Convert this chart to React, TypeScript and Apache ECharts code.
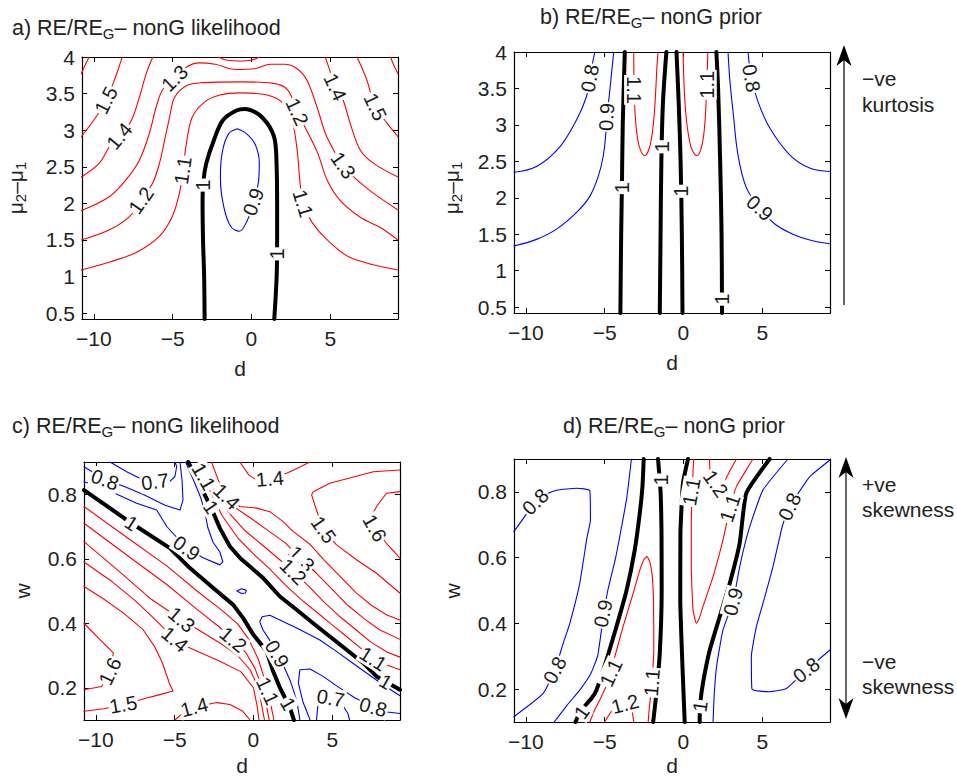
import React, { useEffect, useRef } from "react";
import * as echarts from "echarts";

type Pt = [number, number];
type Lbl = [string, number, number, number];

const FONT = "'Liberation Sans', Arial, Helvetica, sans-serif";

// ---------- axes ----------
const dTicks = [-10, -5, 0, 5];
const muTicks = [0.5, 1, 1.5, 2, 2.5, 3, 3.5, 4];
const wTicks = [0.2, 0.4, 0.6, 0.8];
const dRange: Pt = [-10.75, 9.3];
const muRange: Pt = [0.42, 4];
const wRange: Pt = [0.1, 0.9];

// ---------- panel a : RE/RE_G, nonG likelihood, (d, mu2-mu1) ----------
const aBlack1: Pt[] = [[-2.97,0.42],[-3.0,1.0],[-3.07,1.5],[-3.1,2.0],[-3.05,2.3],[-2.86,2.55],[-2.39,2.86],[-1.8,3.14],[-0.95,3.27],[-0.4,3.29],[0.2,3.25],[0.7,3.17],[1.17,3.04],[1.49,2.86],[1.6,2.5],[1.63,2.0],[1.63,1.5],[1.6,1.0],[1.45,0.42]];
const aBlue09: Pt[] = [[-0.9,3.02],[-0.3,2.95],[0.25,2.8],[0.5,2.55],[0.45,2.3],[0.15,2.0],[-0.3,1.75],[-0.75,1.62],[-1.3,1.68],[-1.75,1.95],[-1.97,2.35],[-1.85,2.7],[-1.45,2.95],[-0.9,3.02]];
const aRed11: Pt[] = [[-10.8,1.09],[-9.0,1.2],[-7.3,1.33],[-5.8,1.56],[-5.0,1.83],[-4.56,2.15],[-4.35,2.45],[-4.13,2.81],[-3.77,3.17],[-3.0,3.38],[-2.0,3.48],[-0.7,3.51],[1.0,3.48],[2.0,3.37],[2.58,3.13],[2.9,2.73],[3.09,2.27],[3.28,2.0],[3.85,1.74],[4.81,1.5],[6.27,1.26],[9.3,1.09]];
const aRed12: Pt[] = [[-10.8,1.5],[-9.0,1.64],[-7.74,1.82],[-7.0,2.04],[-6.28,2.27],[-5.83,2.55],[-5.51,2.86],[-5.19,3.18],[-4.87,3.45],[-4.1,3.61],[-3.1,3.65],[-0.7,3.66],[1.4,3.64],[2.3,3.55],[2.9,3.25],[3.5,3.0],[4.2,2.69],[4.8,2.32],[5.63,2.04],[6.9,1.81],[8.18,1.67],[9.3,1.5]];
const aRed13: Pt[] = [[-10.8,1.9],[-9.02,2.09],[-7.96,2.32],[-7.11,2.59],[-6.47,2.96],[-6.04,3.32],[-5.64,3.55],[-4.87,3.71],[-4.14,3.86],[-3.3,3.92],[-2.3,3.9],[-1.0,3.83],[0.2,3.84],[1.2,3.9],[2.1,3.9],[2.9,3.84],[3.53,3.68],[4.17,3.31],[4.8,2.9],[5.82,2.52],[6.7,2.32],[7.73,2.14],[9.3,1.91]];
const aRed14a: Pt[] = [[-10.8,2.36],[-9.65,2.55],[-9.02,2.77],[-8.38,2.92],[-7.63,3.13],[-7.11,3.45],[-6.68,3.77],[-6.26,4.0]];
const aRed14b: Pt[] = [[-2.1,4.0],[-1.6,3.96],[-0.8,3.945],[0.0,3.955],[0.5,4.0]];
const aRed14c: Pt[] = [[4.68,4.0],[5.0,3.8],[5.32,3.59],[5.82,3.41],[6.27,3.09],[6.9,2.73],[7.73,2.55],[9.3,2.36]];
const aRed15a: Pt[] = [[-10.8,2.91],[-9.86,3.18],[-9.23,3.41],[-8.7,3.68],[-8.27,3.95],[-8.2,4.0]];
const aRed15b: Pt[] = [[6.7,4.0],[7.3,3.7],[7.86,3.32],[8.63,3.09],[9.3,2.91]];
const aRed16a: Pt[] = [[-10.8,3.77],[-10.55,3.89],[-10.3,4.0]];
const aRed16b: Pt[] = [[8.82,4.0],[9.05,3.88],[9.3,3.77]];
const aContours: [number, Pt[]][] = [[1.6,aRed16a],[1.6,aRed16b],[1.5,aRed15a],[1.5,aRed15b],[1.4,aRed14a],[1.4,aRed14b],[1.4,aRed14c],[1.3,aRed13],[1.2,aRed12],[1.1,aRed11],[0.9,aBlue09],[1,aBlack1]];
const aLabels: Lbl[] = [["1.5",-9.23,3.41,63],["1.4",-8.38,2.92,50],["1.3",-4.87,3.71,44],["1.2",-7.0,2.04,55],["1.1",-4.35,2.45,82],["1",-3.08,2.25,90],["0.9",0.12,2.02,70],["1",1.63,1.31,90],["1.2",2.9,3.25,-65],["1.4",5.32,3.59,-65],["1.5",7.86,3.32,-65],["1.3",5.82,2.52,-55],["1.1",3.28,2.0,-73]];

// ---------- panel b : RE/RE_G, nonG prior, (d, mu2-mu1) ----------
const bBlack1: Pt[] = [[-4.0,0.42],[-3.95,1.5],[-3.9,2.2],[-3.85,3.0],[-3.72,4.0]];
const bBlack2: Pt[] = [[-1.5,0.42],[-1.45,1.5],[-1.4,2.5],[-1.3,3.3],[-1.08,4.0]];
const bBlack3: Pt[] = [[-0.06,0.42],[-0.1,1.5],[-0.18,2.5],[-0.3,3.3],[-0.44,4.0]];
const bBlack4: Pt[] = [[2.45,0.42],[2.42,1.5],[2.33,2.5],[2.2,3.5],[2.09,4.0]];
const bRed11a: Pt[] = [[-3.15,4.0],[-3.13,3.5],[-3.05,3.1],[-2.9,2.8],[-2.7,2.64],[-2.45,2.58],[-2.2,2.66],[-2.0,2.85],[-1.85,3.15],[-1.75,3.5],[-1.68,3.8],[-1.61,4.0]];
const bRed11b: Pt[] = [[-0.02,4.0],[0.05,3.5],[0.2,3.05],[0.45,2.72],[0.7,2.6],[0.89,2.58],[1.1,2.66],[1.28,2.85],[1.4,3.15],[1.47,3.5],[1.55,4.0]];
const bBlue09a: Pt[] = [[-10.75,1.34],[-9.32,1.43],[-8.05,1.57],[-6.78,1.8],[-5.94,2.02],[-5.41,2.29],[-5.09,2.57],[-4.92,2.89],[-4.88,3.11],[-4.71,3.39],[-4.56,3.71],[-4.42,4.0]];
const bBlue09b: Pt[] = [[2.83,4.0],[2.95,3.6],[3.15,3.18],[3.46,2.59],[3.99,2.14],[4.84,1.86],[5.8,1.64],[6.95,1.5],[8.2,1.41],[9.3,1.37]];
const bBlue08a: Pt[] = [[-10.75,2.35],[-9.32,2.43],[-7.84,2.7],[-6.78,3.07],[-6.15,3.39],[-5.94,3.64],[-5.73,3.89],[-5.62,4.0]];
const bBlue08b: Pt[] = [[4.1,4.0],[4.31,3.64],[4.73,3.32],[5.47,2.96],[6.74,2.59],[8.0,2.41],[9.3,2.36]];
const bContours: [number, Pt[]][] = [[0.8,bBlue08a],[0.8,bBlue08b],[0.9,bBlue09a],[0.9,bBlue09b],[1.1,bRed11a],[1.1,bRed11b],[1,bBlack1],[1,bBlack2],[1,bBlack3],[1,bBlack4]];
const bLabels: Lbl[] = [["0.8",-5.94,3.64,80],["0.9",-4.88,3.11,87],["1",-3.9,2.14,90],["1.1",-3.13,3.48,-90],["1",-1.38,2.7,90],["1",-0.15,2.09,90],["1.1",1.48,3.55,90],["1",2.44,0.61,90],["0.8",4.31,3.64,-80],["0.9",4.84,1.86,-42]];

// ---------- panel c : RE/RE_G, nonG likelihood, (d, w) ----------
const cBlackA: Pt[] = [[-10.75,0.813],[-7.73,0.71],[-5.3,0.633],[-4.03,0.571],[-2.55,0.509],[-1.28,0.457],[-0.65,0.416],[0.0,0.364],[0.84,0.313],[1.25,0.251],[1.68,0.2],[2.3,0.14],[2.57,0.1]];
const cBlackB: Pt[] = [[-4.14,0.9],[-3.6,0.85],[-3.19,0.808],[-2.7,0.76],[-2.13,0.695],[-1.49,0.638],[-0.8,0.6],[-0.2,0.575],[0.62,0.54],[1.68,0.483],[2.74,0.442],[3.79,0.4],[4.85,0.359],[5.91,0.318],[6.96,0.277],[7.81,0.235],[9.3,0.194]];
const cBlue07a: Pt[] = [[-9.1,0.9],[-8.04,0.87],[-6.99,0.844],[-6.25,0.839],[-5.3,0.84],[-4.98,0.855],[-4.87,0.886],[-4.98,0.9]];
const cBlue08a: Pt[] = [[-10.75,0.885],[-9.42,0.845],[-8.15,0.823],[-6.88,0.797],[-5.61,0.766],[-4.66,0.751],[-4.47,0.782],[-4.53,0.844],[-4.66,0.9]];
const cBlue09a: Pt[] = [[-10.75,0.839],[-9.53,0.819],[-7.41,0.772],[-6.14,0.751],[-5.5,0.7],[-4.24,0.633],[-3.2,0.603],[-2.13,0.581],[-1.94,0.59],[-2.13,0.621],[-2.57,0.652],[-2.89,0.696],[-3.08,0.745],[-3.35,0.79],[-3.75,0.838],[-4.3,0.9]];
const cBlue09b: Pt[] = [[-1.05,0.5],[-0.75,0.507],[-0.45,0.502],[-0.5,0.494],[-0.75,0.492],[-1.05,0.5]];
const cBlue09c: Pt[] = [[2.95,0.1],[2.75,0.16],[2.35,0.22],[1.9,0.27],[1.45,0.31],[1.0,0.35],[0.6,0.38],[0.4,0.405],[0.55,0.42],[1.04,0.425],[1.68,0.41],[2.74,0.385],[3.58,0.364],[4.21,0.348],[5.2,0.315],[6.2,0.28],[7.2,0.245],[8.2,0.21],[9.3,0.175]];
const cBlue08b: Pt[] = [[3.6,0.1],[3.15,0.155],[2.85,0.215],[2.95,0.256],[3.6,0.258],[4.4,0.236],[5.3,0.205],[6.4,0.17],[7.6,0.14],[8.5,0.125],[9.3,0.12]];
const cBlue07b: Pt[] = [[4.0,0.1],[4.1,0.15],[4.9,0.168],[5.6,0.15],[6.0,0.12],[6.1,0.1]];
const cRed11a: Pt[] = [[-10.75,0.762],[-8,0.665],[-5.5,0.578],[-3.5,0.497],[-2,0.44],[-1,0.398],[-0.3,0.35],[0.3,0.29],[0.75,0.22],[1.05,0.16],[1.3,0.1]];
const cRed12a: Pt[] = [[-10.75,0.71],[-8,0.61],[-5.5,0.52],[-3.5,0.44],[-2.2,0.39],[-1.28,0.349],[-0.5,0.31],[0.1,0.26],[0.55,0.2],[0.85,0.14],[1.0,0.1]];
const cRed13a: Pt[] = [[-10.75,0.653],[-8.5,0.56],[-6.5,0.475],[-4.56,0.411],[-3.5,0.38],[-2.0,0.335],[-1.0,0.3],[-0.2,0.255],[0.3,0.2],[0.55,0.14],[0.7,0.1]];
const cRed14a: Pt[] = [[-10.75,0.59],[-9,0.53],[-7.5,0.47],[-6.2,0.41],[-4.98,0.35],[-4.03,0.323],[-2.13,0.282],[-0.8,0.25],[0.0,0.2],[0.25,0.14],[0.35,0.1]];
const cRed14b: Pt[] = [[-4.98,0.1],[-4.35,0.127],[-3.7,0.14],[-2.95,0.148],[-2.32,0.154],[-1.49,0.148],[-0.67,0.127],[-0.22,0.1]];
const cRed15a: Pt[] = [[-10.75,0.514],[-9.5,0.475],[-8.2,0.43],[-7.0,0.38],[-6.3,0.33],[-5.8,0.28],[-5.3,0.21],[-5.1,0.19],[-6.0,0.178],[-6.77,0.168],[-8.26,0.148],[-9.5,0.135],[-10.75,0.127]];
const cRed16a: Pt[] = [[-10.75,0.4],[-9.74,0.349],[-8.89,0.308],[-9.1,0.251],[-9.63,0.204],[-10.75,0.194]];
const cRed11b: Pt[] = [[-3.58,0.9],[-2.75,0.81],[-2.0,0.735],[-1.0,0.665],[0.0,0.615],[1.0,0.57],[2.0,0.52],[3.0,0.475],[4.0,0.435],[5.0,0.395],[6.0,0.355],[7.0,0.315],[7.6,0.29],[8.5,0.27],[9.3,0.256]];
const cRed12b: Pt[] = [[-3.29,0.9],[-2.45,0.81],[-1.6,0.745],[-0.6,0.69],[0.5,0.645],[1.6,0.6],[2.52,0.56],[3.5,0.515],[4.5,0.465],[5.5,0.42],[6.5,0.38],[7.5,0.34],[8.5,0.31],[9.3,0.295]];
const cRed13b: Pt[] = [[-2.97,0.9],[-2.15,0.815],[-1.2,0.76],[0.0,0.72],[1.0,0.685],[2.0,0.65],[3.05,0.6],[4.0,0.555],[5.0,0.505],[6.0,0.455],[7.0,0.415],[8.0,0.38],[9.3,0.35]];
const cRed14c: Pt[] = [[-2.66,0.9],[-2.2,0.84],[-1.7,0.793],[-0.86,0.762],[0.2,0.757],[1.04,0.746],[1.89,0.715],[2.52,0.685],[3.58,0.645],[4.5,0.595],[5.5,0.545],[6.5,0.495],[7.5,0.455],[8.5,0.425],[9.3,0.41]];
const cRed14d: Pt[] = [[-0.86,0.9],[-0.3,0.86],[0.2,0.844],[1.04,0.848],[2.1,0.865],[3.0,0.885],[3.58,0.9]];
const cRed15b: Pt[] = [[9.3,0.875],[7.6,0.87],[4.85,0.834],[3.79,0.808],[3.69,0.798],[4.0,0.751],[4.45,0.69],[5.27,0.643],[6.54,0.597],[7.81,0.555],[9.3,0.493]];
const cRed16b: Pt[] = [[9.3,0.808],[8.44,0.803],[7.81,0.762],[7.6,0.741],[7.7,0.695],[8.44,0.648],[9.3,0.602]];
const cContours: [number, Pt[]][] = [[0.7,cBlue07a],[0.8,cBlue08a],[0.9,cBlue09a],[0.9,cBlue09b],[0.9,cBlue09c],[0.8,cBlue08b],[0.7,cBlue07b],[1.1,cRed11a],[1.2,cRed12a],[1.3,cRed13a],[1.4,cRed14a],[1.4,cRed14b],[1.5,cRed15a],[1.6,cRed16a],[1.1,cRed11b],[1.2,cRed12b],[1.3,cRed13b],[1.4,cRed14c],[1.4,cRed14d],[1.5,cRed15b],[1.6,cRed16b],[1,cBlackA],[1,cBlackB]];
const cLabels: Lbl[] = [["0.8",-9.42,0.845,-20],["0.7",-6.25,0.839,8],["1",-7.73,0.71,-33],["0.9",-4.24,0.633,-35],["1.3",-4.56,0.411,-40],["1.4",-4.98,0.35,-40],["1.2",-1.28,0.349,-40],["1.6",-9.1,0.251,65],["1.5",-8.26,0.148,10],["1.4",-3.75,0.14,15],["1.1",0.9,0.19,-65],["1",2.2,0.15,-60],["0.9",1.5,0.305,-60],["1.1",-3.15,0.855,-60],["1.4",-1.7,0.793,-45],["1",-2.7,0.76,-55],["1.3",3.05,0.6,-45],["1.2",2.52,0.56,-45],["1.5",4.45,0.69,-55],["1.6",7.7,0.695,-60],["1.4",1.04,0.848,5],["1.1",7.6,0.29,-32],["1",8.4,0.219,-30],["0.7",4.9,0.168,-10],["0.8",7.6,0.14,-15]];

// ---------- panel d : RE/RE_G, nonG prior, (d, w) ----------
const dBlackL: Pt[] = [[-6.85,0.1],[-6.5,0.135],[-5.83,0.172],[-5.52,0.197],[-4.88,0.289],[-4.25,0.39],[-3.61,0.5],[-3.09,0.623],[-2.77,0.735],[-2.6,0.816],[-2.52,0.9]];
const dBlackM1: Pt[] = [[-1.61,0.9],[-1.45,0.8],[-1.39,0.67],[-1.38,0.5],[-1.5,0.31],[-1.71,0.19],[-1.92,0.1]];
const dBlackM2: Pt[] = [[0.29,0.9],[-0.03,0.826],[-0.19,0.674],[-0.2,0.471],[-0.06,0.268],[0.08,0.1]];
const dBlackR: Pt[] = [[1.03,0.1],[1.05,0.147],[1.24,0.218],[1.67,0.319],[2.3,0.42],[2.94,0.522],[3.57,0.644],[3.99,0.796],[5.47,0.9]];
const dBlue09L: Pt[] = [[-8.2,0.1],[-7.4,0.15],[-6.58,0.197],[-5.9,0.245],[-5.45,0.3],[-5.2,0.38],[-5.05,0.43],[-4.8,0.5],[-4.3,0.6],[-3.9,0.7],[-3.6,0.78],[-3.3,0.9]];
const dBlue08L: Pt[] = [[-10.76,0.679],[-10.0,0.73],[-9.4,0.77],[-8.6,0.795],[-8.05,0.805],[-6.78,0.811],[-5.94,0.804],[-5.9,0.714],[-6.11,0.664],[-6.58,0.522],[-7.21,0.4],[-7.63,0.339],[-8.16,0.258],[-8.9,0.187],[-10.76,0.116]];
const dBlue09R: Pt[] = [[1.88,0.1],[1.95,0.18],[2.1,0.268],[2.51,0.38],[3.15,0.466],[3.57,0.572],[4.0,0.66],[4.41,0.724],[5.05,0.806],[6.63,0.9]];
const dBlue08R: Pt[] = [[9.3,0.897],[8.01,0.846],[7.2,0.79],[6.74,0.755],[6.3,0.7],[6.1,0.66],[5.68,0.572],[5.1,0.47],[4.63,0.39],[4.31,0.299],[4.35,0.2],[5.47,0.192],[6.53,0.202],[7.8,0.258],[9.3,0.319]];
const dRed11L: Pt[] = [[-5.94,0.1],[-5.6,0.14],[-5.31,0.167],[-4.75,0.225],[-4.46,0.28],[-3.83,0.39],[-3.19,0.491],[-2.77,0.562],[-2.5,0.595],[-2.3,0.603],[-2.12,0.585],[-1.97,0.54],[-1.9,0.47],[-1.88,0.319],[-1.95,0.25],[-2.03,0.2],[-2.15,0.15],[-2.24,0.1]];
const dRed12L: Pt[] = [[-5.0,0.1],[-4.6,0.13],[-4.2,0.148],[-3.7,0.158],[-3.3,0.14],[-3.15,0.1]];
const dRed11R: Pt[] = [[0.65,0.9],[0.55,0.8],[0.5,0.7],[0.5,0.572],[0.61,0.441],[0.82,0.4],[1.0,0.415],[1.24,0.451],[1.88,0.542],[2.51,0.654],[2.95,0.75],[3.36,0.816],[3.9,0.86],[4.41,0.9]];
const dRed12R: Pt[] = [[1.65,0.9],[1.72,0.85],[2.05,0.825],[2.41,0.816],[2.9,0.86],[3.36,0.9]];
const dContours: [number, Pt[]][] = [[0.8,dBlue08L],[0.8,dBlue08R],[0.9,dBlue09L],[0.9,dBlue09R],[1.1,dRed11L],[1.2,dRed12L],[1.1,dRed11R],[1.2,dRed12R],[1,dBlackL],[1,dBlackM1],[1,dBlackM2],[1,dBlackR]];
const dLabels: Lbl[] = [["0.8",-9.4,0.77,44],["0.8",-8.16,0.258,62],["0.9",-5.1,0.43,78],["1",-6.45,0.13,55],["1.1",-4.6,0.25,65],["1.2",-3.7,0.155,15],["1.1",-2.0,0.22,85],["1",-1.45,0.836,90],["1.1",0.5,0.8,80],["1.2",2.05,0.825,-55],["1.1",2.95,0.75,72],["0.9",3.15,0.466,75],["0.8",6.74,0.755,65],["0.8",7.8,0.258,38],["1",1.05,0.147,82]];

// ---------- layout ----------
const panels = [
  { grid: { left: 82, top: 57, width: 316, height: 262 }, yRange: muRange, yTicks: muTicks, contours: aContours, labels: aLabels, smooth: 0.35 },
  { grid: { left: 514, top: 52, width: 316, height: 261 }, yRange: muRange, yTicks: muTicks, contours: bContours, labels: bLabels, smooth: 0.35 },
  { grid: { left: 84, top: 462, width: 316, height: 258 }, yRange: wRange, yTicks: wTicks, contours: cContours, labels: cLabels, smooth: 0 },
  { grid: { left: 514, top: 459, width: 316, height: 263 }, yRange: wRange, yTicks: wTicks, contours: dContours, labels: dLabels, smooth: 0.15 },
];

const fmt = (v: number) => String(v).replace("-", "\u2212");
const levelColor = (l: number) => (l === 1 ? "#000000" : l < 1 ? "#0000ff" : "#ff0000");

function buildOption() {
  const xAxis: any[] = [];
  const yAxis: any[] = [];
  const series: any[] = [];
  const axisLine = { show: true, onZero: false, lineStyle: { color: "#000", width: 1.2 } };
  const labelStyle = { fontSize: 21, fontFamily: FONT, color: "#222" };
  panels.forEach((p, g) => {
    const xt = { show: true, inside: true, length: 5, customValues: dTicks, lineStyle: { color: "#000" } };
    const yt = { show: true, inside: true, length: 5, customValues: p.yTicks, lineStyle: { color: "#000" } };
    xAxis.push({ type: "value", gridIndex: g, position: "bottom", min: dRange[0], max: dRange[1], axisLine, axisTick: xt, splitLine: { show: false },
      axisLabel: { show: true, customValues: dTicks, formatter: fmt, margin: 9, ...labelStyle } });
    xAxis.push({ type: "value", gridIndex: g, position: "top", min: dRange[0], max: dRange[1], axisLine, axisTick: xt, splitLine: { show: false }, axisLabel: { show: false } });
    yAxis.push({ type: "value", gridIndex: g, position: "left", min: p.yRange[0], max: p.yRange[1], axisLine, axisTick: yt, splitLine: { show: false },
      axisLabel: { show: true, customValues: p.yTicks, formatter: fmt, margin: 7, ...labelStyle } });
    yAxis.push({ type: "value", gridIndex: g, position: "right", min: p.yRange[0], max: p.yRange[1], axisLine, axisTick: yt, splitLine: { show: false }, axisLabel: { show: false } });
    p.contours.forEach(([lvl, pts]) => {
      series.push({
        type: "line", xAxisIndex: g * 2, yAxisIndex: g * 2, data: pts, symbol: "none", showSymbol: false,
        smooth: p.smooth || false, silent: true, z: lvl === 1 ? 3 : 2,
        lineStyle: { color: levelColor(lvl), width: lvl === 1 ? 4 : 1.1, cap: "round", join: "round" },
      });
    });
    series.push({
      type: "scatter", xAxisIndex: g * 2, yAxisIndex: g * 2, symbolSize: 1, silent: true, z: 10,
      itemStyle: { color: "#fff", opacity: 1 },
      label: { show: true, position: "inside", formatter: "{b}", fontSize: 20, fontFamily: FONT, color: "#1a1a1a", opacity: 1, backgroundColor: "#fff", padding: [0, 1] },
      data: p.labels.map(([t, x, y, r]) => ({ name: t, value: [x, y], label: { rotate: r } })),
    });
  });

  const rich = { s: { fontSize: 15, fontFamily: FONT, fill: "#222", padding: [10, 0, 0, 0] } };
  const text = (x: number, y: number, t: string, extra: any = {}) => ({
    type: "text", x, y, rotation: extra.rotation || 0, silent: true,
    style: { text: t, fontSize: extra.size || 21, fontFamily: FONT, fill: "#222", align: extra.align || "left", verticalAlign: "middle", rich },
  });
  const arrowHead = (x: number, tip: number, dir: number) => ({
    type: "polygon", silent: true,
    shape: { points: [[x, tip], [x - 7.5, tip + dir * 21], [x, tip + dir * 15], [x + 7.5, tip + dir * 21]] },
    style: { fill: "#000" },
  });
  const graphic: any[] = [
    text(12, 28, "a) RE/RE{s|G}\u2013 nonG likelihood", { size: 21.5 }),
    text(540, 17, "b) RE/RE{s|G}\u2013 nonG prior", { size: 21.5 }),
    text(12, 426, "c) RE/RE{s|G}\u2013 nonG likelihood", { size: 21.5 }),
    text(563, 426, "d) RE/RE{s|G}\u2013 nonG prior", { size: 21.5 }),
    text(240, 368, "d", { align: "center" }),
    text(672, 362, "d", { align: "center" }),
    text(242, 765, "d", { align: "center" }),
    text(672, 765, "d", { align: "center" }),
    text(15, 188, "\u03bc{s|2}\u2013\u03bc{s|1}", { align: "center", rotation: Math.PI / 2 }),
    text(451, 188, "\u03bc{s|2}\u2013\u03bc{s|1}", { align: "center", rotation: Math.PI / 2 }),
    text(22, 591, "w", { align: "center", rotation: Math.PI / 2 }),
    text(452, 591, "w", { align: "center", rotation: Math.PI / 2 }),
    text(862, 78, "\u2212ve"),
    text(862, 104, "kurtosis"),
    text(862, 484, "+ve"),
    text(862, 509, "skewness"),
    text(862, 661, "\u2212ve"),
    text(862, 686, "skewness"),
    { type: "line", silent: true, shape: { x1: 844, y1: 305, x2: 844, y2: 58 }, style: { stroke: "#000", lineWidth: 1.2 } },
    arrowHead(844, 45, 1),
    { type: "line", silent: true, shape: { x1: 846, y1: 470, x2: 846, y2: 706 }, style: { stroke: "#000", lineWidth: 1.2 } },
    arrowHead(846, 457, 1),
    arrowHead(846, 719, -1),
  ];

  return {
    animation: false,
    backgroundColor: "#fff",
    grid: panels.map((p) => ({ ...p.grid, containLabel: false })),
    xAxis,
    yAxis,
    series,
    graphic,
  };
}

export default function App() {
  const ref = useRef<HTMLDivElement>(null);
  useEffect(() => {
    if (!ref.current) return;
    const chart = echarts.init(ref.current, undefined, { renderer: "svg" });
    chart.setOption(buildOption() as any);
    return () => chart.dispose();
  }, []);
  return <div ref={ref} style={{ position: "absolute", left: 0, top: 0, width: 957, height: 779 }} />;
}
